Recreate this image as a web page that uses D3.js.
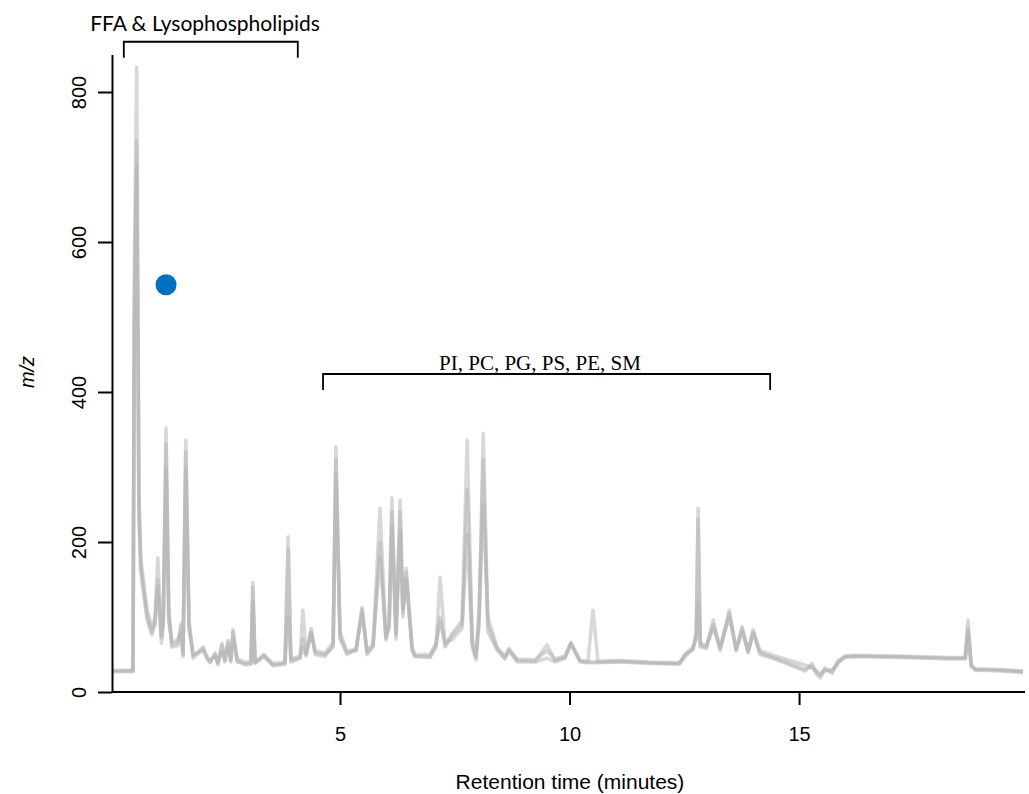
<!DOCTYPE html>
<html>
<head>
<meta charset="utf-8">
<script src="https://cdn.jsdelivr.net/npm/d3@7"></script>
<style>
  body { margin: 0; background: #fff; }
  .axis path, .axis line { stroke: #000; stroke-width: 2; }
  .axis text { font-family: "Liberation Sans", Arial, sans-serif; font-size: 20px; fill: #000; }
  .trace { fill: none; stroke: #b2b2b2; stroke-opacity: 0.5; stroke-width: 3.6; stroke-linejoin: round; }
</style>
</head>
<body>
<script>

// retention time (minutes) and three overlaid runs (m/z)
var times = [0.03, 0.49, 0.52, 0.57, 0.62, 0.66, 0.79, 0.90, 0.97, 1.03, 1.11, 1.15, 1.21, 1.27, 1.34, 1.47, 1.54, 1.58, 1.64, 1.71,
  1.80, 2.02, 2.10, 2.17, 2.28, 2.34, 2.43, 2.49, 2.56, 2.62, 2.67, 2.76, 2.93, 3.06, 3.10, 3.15, 3.34, 3.54, 3.80, 3.87,
  3.93, 4.13, 4.19, 4.26, 4.37, 4.46, 4.67, 4.85, 4.91, 5.00, 5.15, 5.35, 5.48, 5.59, 5.72, 5.87, 6.00, 6.07, 6.13, 6.22,
  6.31, 6.37, 6.44, 6.57, 6.63, 6.96, 7.09, 7.18, 7.29, 7.44, 7.66, 7.77, 7.88, 7.96, 8.03, 8.12, 8.22, 8.42, 8.59, 8.68,
  8.86, 9.25, 9.51, 9.68, 9.90, 10.03, 10.23, 10.40, 10.51, 10.62, 11.10, 11.75, 12.39, 12.53, 12.69, 12.76, 12.80, 12.85, 12.98, 13.13,
  13.28, 13.48, 13.63, 13.76, 13.89, 14.00, 14.15, 14.48, 14.80, 15.13, 15.28, 15.39, 15.46, 15.56, 15.72, 15.85, 16.00, 16.22, 17.20, 18.29,
  18.62, 18.68, 18.75, 18.84, 19.38, 19.88];

var runA = [27, 27, 520, 735, 247, 167, 105, 80, 90, 150, 65, 90, 330, 100, 60, 62, 88, 47, 320, 90,
  45, 58, 45, 39, 52, 36, 62, 42, 66, 42, 80, 40, 38, 38, 140, 38, 49, 35, 37, 190,
  40, 45, 60, 48, 85, 50, 47, 62, 310, 70, 52, 55, 110, 50, 60, 200, 69, 90, 240, 70,
  240, 100, 160, 55, 47, 47, 60, 100, 60, 75, 90, 210, 60, 43, 100, 310, 80, 56, 45, 56,
  40, 40, 45, 40, 45, 65, 40, 39, 39, 39, 40, 38, 37, 50, 56, 80, 230, 60, 58, 96,
  55, 109, 55, 87, 52, 83, 52, 45, 38, 30, 35, 23, 19, 30, 27, 40, 47, 48, 47, 45,
  45, 80, 35, 30, 29, 27];

var runB = [28, 28, 560, 833, 265, 178, 112, 86, 100, 179, 72, 95, 352, 110, 62, 66, 92, 50, 336, 95,
  48, 60, 44, 40, 50, 38, 65, 40, 69, 44, 83, 42, 36, 37, 146, 39, 47, 36, 38, 207,
  42, 46, 109, 50, 80, 52, 50, 60, 327, 75, 50, 58, 113, 52, 62, 245, 72, 95, 259, 75,
  256, 105, 165, 58, 48, 46, 62, 153, 62, 78, 95, 336, 65, 46, 90, 345, 90, 58, 44, 55,
  42, 41, 63, 42, 46, 64, 41, 40, 109, 40, 41, 39, 38, 52, 58, 75, 245, 62, 60, 90,
  58, 105, 58, 85, 55, 80, 55, 48, 42, 36, 32, 28, 24, 28, 30, 38, 48, 49, 48, 46,
  46, 96, 36, 31, 30, 28];

var runC = [29, 29, 480, 700, 230, 160, 98, 76, 95, 140, 75, 100, 300, 95, 66, 70, 80, 52, 300, 85,
  50, 55, 48, 42, 48, 40, 55, 44, 60, 40, 72, 44, 40, 40, 120, 40, 50, 38, 40, 100,
  44, 48, 70, 52, 78, 55, 52, 66, 290, 80, 55, 56, 105, 55, 64, 180, 75, 85, 220, 80,
  215, 110, 150, 60, 50, 50, 65, 95, 66, 70, 85, 270, 70, 48, 110, 250, 100, 60, 48, 58,
  44, 43, 55, 44, 48, 66, 42, 41, 40, 41, 42, 40, 39, 48, 60, 70, 120, 65, 62, 85,
  60, 100, 56, 80, 54, 78, 50, 44, 36, 28, 38, 25, 22, 32, 25, 42, 46, 47, 46, 44,
  44, 85, 34, 29, 28, 26];

var runs = [runA, runB, runC];

var yTicks = [0, 200, 400, 600, 800];
var xTicks = [5, 10, 15];

// bracketed groups of lipid classes
var groupLabels = ["FFA & Lysophospholipids", "PI, PC, PG, PS, PE, SM"];
var groupStart = [0.29, 4.63];
var groupEnd = [4.08, 14.37];
var groupLevel = [867, 424];

var markerTime = [1.21];
var markerValue = [543];

var width = 1029, height = 794;

var x = d3.scaleLinear().domain([0, 19.9]).range([110.5, 1024]);
var y = d3.scaleLinear().domain([0, 850]).range([692, 54.5]);

var svg = d3.select("body").append("svg")
    .attr("width", width)
    .attr("height", height);

var line = d3.line()
    .x(function(d, i) { return x(times[i]); })
    .y(function(d) { return y(d); });

svg.selectAll(".trace")
    .data(runs)
  .enter().append("path")
    .attr("class", "trace")
    .attr("d", line);

// axes
var xAxis = svg.append("g")
    .attr("class", "axis")
    .attr("transform", "translate(0," + y(0) + ")")
    .call(d3.axisBottom(x).tickValues(xTicks).tickSize(13).tickSizeOuter(0).tickPadding(22));
xAxis.select(".domain").attr("d", "M112,0H1025");

var yAxis = svg.append("g")
    .attr("class", "axis")
    .attr("transform", "translate(112,0)")
    .call(d3.axisLeft(y).tickValues(yTicks).tickSize(14).tickSizeOuter(0));
yAxis.selectAll(".tick text")
    .attr("x", null).attr("dy", null)
    .attr("transform", "translate(-26,0) rotate(-90)")
    .attr("text-anchor", "middle");

svg.append("text")
    .attr("x", 570)
    .attr("y", 789)
    .attr("text-anchor", "middle")
    .style("font-family", "Liberation Sans, Arial, sans-serif")
    .style("font-size", "21px")
    .text("Retention time (minutes)");

svg.append("text")
    .attr("transform", "translate(34," + 372 + ") rotate(-90)")
    .attr("text-anchor", "middle")
    .style("font-family", "Liberation Sans, Arial, sans-serif")
    .style("font-size", "20px")
    .style("font-style", "italic")
    .text("m/z");

// brackets
var groups = svg.selectAll(".group")
    .data(groupLabels)
  .enter().append("g")
    .attr("class", "group");

groups.append("path")
    .attr("fill", "none")
    .attr("stroke", "#000")
    .attr("stroke-width", 1.8)
    .attr("d", function(d, i) {
      var y0 = y(groupLevel[i]);
      return "M" + x(groupStart[i]) + "," + (y0 + 16) + "V" + y0 + "H" + x(groupEnd[i]) + "V" + (y0 + 16);
    });

groups.append("text")
    .attr("x", function(d, i) { return i == 0 ? 205 : 540; })
    .attr("y", function(d, i) { return y(groupLevel[i]) - (i == 0 ? 11 : 4); })
    .attr("text-anchor", "middle")
    .style("font-family", function(d, i) { return i == 0 ? "Lato, sans-serif" : "Liberation Serif, Times New Roman, serif"; })
    .style("font-size", function(d, i) { return i == 0 ? "21px" : "21px"; })
    .text(function(d) { return d; });

svg.selectAll(".marker")
    .data(markerTime)
  .enter().append("circle")
    .attr("class", "marker")
    .attr("cx", function(d) { return x(d); })
    .attr("cy", function(d, i) { return y(markerValue[i]); })
    .attr("r", 10.5)
    .attr("fill", "#0070c0");

</script>
</body>
</html>
